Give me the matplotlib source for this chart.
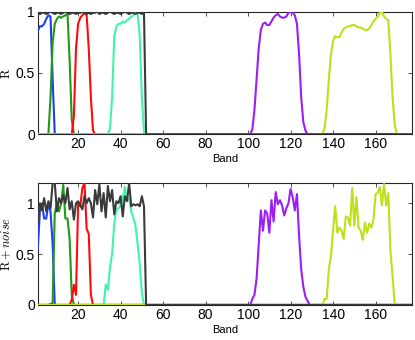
import numpy as np
import matplotlib
matplotlib.use("Agg")
import matplotlib.pyplot as plt

plt.rcParams['font.family'] = ['Liberation Sans', 'DejaVu Sans']
plt.rcParams['mathtext.fontset'] = 'cm'

bands = np.arange(1, 178)

# clean spectra: (first band, values)
blue_start = 1
blue_vals = [0.84, 0.88, 0.88, 0.90, 0.94, 0.97, 0.96, 0.45, 0.0]
green_start = 6
green_vals = [0.0, 0.3, 0.75, 0.9, 0.94, 0.96, 0.95, 0.96, 0.97, 0.98, 0.6, 0.12, 0.0]
red_start = 17
red_vals = [0.0, 0.15, 0.7, 0.9, 0.95, 0.97, 0.99, 0.97, 0.7, 0.3, 0.03, 0.0]
aqua_start = 34
aqua_vals = [0.0, 0.05, 0.3, 0.8, 0.88, 0.9, 0.9, 0.92, 0.91, 0.93, 0.94, 0.96,
             0.97, 0.99, 0.98, 0.8, 0.3, 0.02, 0.0]
purple_start = 100
purple_vals = [0.0, 0.0, 0.04, 0.2, 0.45, 0.7, 0.85, 0.9, 0.91, 0.89, 0.89, 0.92,
               0.95, 0.97, 0.98, 0.96, 0.95, 0.95, 0.96, 0.99, 1.0, 0.99, 0.97,
               0.9, 0.65, 0.3, 0.1, 0.03, 0.0]
yg_start = 134
yg_vals = [0.0, 0.0, 0.05, 0.2, 0.45, 0.65, 0.76, 0.80, 0.79, 0.79, 0.83, 0.86,
           0.87, 0.88, 0.88, 0.89, 0.89, 0.88, 0.87, 0.87, 0.86, 0.85, 0.85, 0.86,
           0.89, 0.92, 0.94, 0.96, 0.99, 1.0, 0.96, 0.94, 0.93, 0.65, 0.3, 0.08, 0.0]
gray_start = 1
gray_vals = [0.99, 0.98, 0.99, 0.99, 0.98, 0.99, 1.0, 0.99, 0.98, 0.99, 0.99, 0.98,
             0.99, 1.0, 0.99, 0.98, 0.99, 0.99, 0.98, 0.99, 0.99, 1.0, 0.99, 0.98,
             0.99, 0.98, 0.99, 0.99, 1.0, 0.98, 0.99, 0.99, 0.98, 0.99, 1.0, 0.99,
             0.98, 0.99, 0.99, 0.98, 0.99, 1.0, 0.99, 0.98, 0.99, 0.99, 0.98, 0.99,
             0.99, 0.98, 0.99]

# noisy spectra
blue_n_vals = [0.55, 0.92, 1.0, 0.85, 0.85, 1.0, 0.92, 0.6, 0.0]
green_n_vals = [0.0, 0.01, 0.02, 0.9, 1.0, 0.92, 1.0, 1.18, 0.85, 0.85, 0.65, 0.1, 0.0]
red_n_vals = [0.05, 0.2, 0.1, 1.0, 0.97, 1.15, 1.2, 0.75, 0.7, 0.1, 0.0, 0.0]
aqua_n_start = 32
aqua_n_vals = [0.0, 0.2, 0.15, 0.37, 0.5, 0.8, 0.94, 0.95, 0.98, 1.05, 1.16, 1.03,
               1.05, 0.92, 0.86, 0.78, 0.6, 0.4, 0.12, 0.0, 0.0]
purple_n_vals = [0.0, 0.0, 0.06, 0.10, 0.26, 0.6, 0.93, 0.73, 0.93, 0.9, 0.71, 1.03,
                 0.82, 1.11, 0.99, 1.03, 0.98, 0.88, 0.95, 1.0, 1.14, 1.06, 0.93,
                 1.09, 0.68, 0.35, 0.18, 0.08, 0.04, 0.0]
yg_n_vals = [0.0, 0.0, 0.06, 0.06, 0.35, 0.48, 0.74, 0.97, 0.71, 0.76, 0.73, 0.65,
             0.87, 0.86, 0.78, 1.15, 0.78, 1.06, 0.76, 0.73, 0.64, 0.81, 0.71, 0.8,
             0.76, 0.84, 1.09, 1.1, 1.16, 0.98, 1.19, 0.98, 1.1, 0.53, 0.29, 0.0]
gray_n_vals = [0.83, 1.0, 0.93, 1.05, 0.92, 1.02, 0.95, 1.2, 1.2, 0.92, 1.05, 1.0,
               1.08, 1.0, 1.15, 0.94, 1.02, 0.84, 1.0, 1.02, 0.98, 0.94, 1.07, 1.0,
               1.05, 1.0, 0.86, 1.13, 0.99, 1.19, 0.92, 1.1, 0.86, 1.17, 1.02, 1.13,
               0.89, 1.02, 1.0, 1.07, 0.87, 1.07, 1.02, 1.2, 0.97, 0.99, 0.98, 0.99,
               0.97, 1.07, 0.97]

colors = ['#1f3fe8', '#1f9a14', '#ff0a0a', '#3ff5a8', '#9b1ef5', '#bde016', '#3a3a3a']


def spectrum(start, vals):
    y = np.zeros(len(bands))
    y[start - 1:start - 1 + len(vals)] = vals
    return y


clean = [spectrum(blue_start, blue_vals), spectrum(green_start, green_vals),
         spectrum(red_start, red_vals), spectrum(aqua_start, aqua_vals),
         spectrum(purple_start, purple_vals), spectrum(yg_start, yg_vals),
         spectrum(gray_start, gray_vals)]
noisy = [spectrum(blue_start, blue_n_vals), spectrum(green_start, green_n_vals),
         spectrum(red_start, red_n_vals), spectrum(aqua_n_start, aqua_n_vals),
         spectrum(purple_start, purple_n_vals), spectrum(yg_start, yg_n_vals),
         spectrum(gray_start, gray_n_vals)]

fig = plt.figure(figsize=(4.15, 3.4), dpi=100)
ax1 = fig.add_axes([0.091, 0.605, 0.901, 0.361])
ax2 = fig.add_axes([0.091, 0.103, 0.901, 0.359])

for ax, data, ylab, ytop in [(ax1, clean, r'$\mathrm{R}$', 1.0),
                             (ax2, noisy, r'$\mathrm{R}+\mathit{noise}$', 1.2)]:
    for y, c in zip(data, colors):
        ax.plot(bands, y, color=c, lw=1.5, zorder=3)
    ax.set_xlim(1, 177)
    ax.set_ylim(0, ytop)
    ax.set_xticks([20, 40, 60, 80, 100, 120, 140, 160])
    ax.set_yticks([0, 0.5, 1])
    ax.set_yticklabels(['0', '0.5', '1'])
    ax.tick_params(direction='in', top=True, right=True, length=3, width=0.6,
                   labelsize=10, pad=2, color='#333333')
    for s in ax.spines.values():
        s.set_color('#262626')
        s.set_linewidth(0.8)
    ax.set_xlabel('Band', fontsize=8, labelpad=2)
    ax.set_ylabel(ylab, fontsize=9, labelpad=2)

fig.savefig('out.png', dpi=100)
